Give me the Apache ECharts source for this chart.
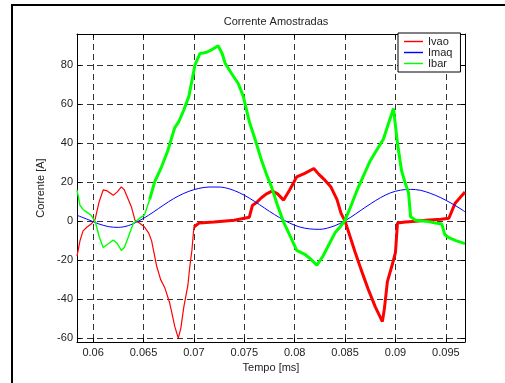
<!DOCTYPE html>
<html>
<head>
<meta charset="utf-8">
<script src="https://cdn.jsdelivr.net/npm/echarts@6/dist/echarts.min.js"></script>
<style>
html, body { margin: 0; padding: 0; background: #fff; }
#chart { width: 505px; height: 383px; }
</style>
</head>
<body>
<div id="chart"></div>
<script>
// pontos: [tempo, corrente]
const ivao = [[0.0584,-18],[0.0587,-10],[0.0590,-5],[0.0594,-3],[0.0598,-1.5],[0.0602,1],[0.0606,10],[0.0610,16],
  [0.0614,15.5],[0.0620,13.3],[0.0624,15],[0.0628,17.6],[0.0631,16],[0.0635,11],[0.0638,7.3],[0.06415,0.5],[0.0646,-1],
  [0.0651,-3],[0.0655,-6],[0.0658,-10],[0.0663,-23],[0.0667,-30],[0.0671,-34],[0.0676,-42],[0.0681,-54],[0.06845,-60],
  [0.0687,-55],[0.0690,-44],[0.0694,-33],[0.0696,-23],[0.0698,-15],[0.0700,-3],[0.0705,-1],[0.0720,-0.5],[0.0740,0.5],
  [0.0755,2],[0.0758,8],[0.0762,9.5],[0.0767,12],[0.0772,14],[0.0778,15.5],[0.0783,14],[0.0789,10.8],[0.0795,16],
  [0.0802,22.7],[0.0810,24.5],[0.0819,27],[0.0824,24],[0.0830,21],[0.0836,17.5],[0.0842,11],[0.0846,4],[0.0850,0],
  [0.0855,-8],[0.0860,-16],[0.0866,-25],[0.0873,-35],[0.0880,-44],[0.0887,-51.5],[0.0889,-45],[0.0892,-31],[0.0897,-22],
  [0.0900,-16],[0.0902,-1],[0.0910,-0.5],[0.0920,0],[0.0930,0.5],[0.0945,1],[0.0953,1.5],[0.0959,9],[0.0964,12],[0.0969,15]];

const imaq = [[0.0584,3],[0.0595,0.8],[0.0605,-1.3],[0.0615,-2.8],[0.0625,-3.2],[0.0635,-2.3],[0.0645,0],[0.0655,3],
  [0.0665,6.5],[0.0675,10],[0.0685,13],[0.0695,15.3],[0.0705,16.8],[0.0715,17.5],[0.0725,17.5],[0.0735,16.6],[0.0745,14.6],
  [0.0755,11.8],[0.0765,8.5],[0.0775,5],[0.0785,1.8],[0.0795,-1],[0.0805,-3],[0.0815,-4],[0.0825,-4.2],[0.0835,-3.2],
  [0.0845,-1.2],[0.0855,1.8],[0.0865,5.3],[0.0875,8.8],[0.0885,12],[0.0895,14.5],[0.0905,15.9],[0.0915,16.3],[0.0925,15.8],
  [0.0935,14.2],[0.0945,12],[0.0955,9.3],[0.0965,6.2],[0.0969,4.8]];

const ibar = [[0.0584,16],[0.0587,8],[0.0590,6],[0.0594,4.5],[0.0598,3],[0.0602,0],[0.0606,-8],[0.0610,-13.5],
  [0.0614,-12],[0.0620,-9.7],[0.0624,-11.5],[0.0628,-15],[0.0631,-13.5],[0.0635,-8],[0.0640,-1],[0.0645,1],[0.0651,3.2],
  [0.0656,11],[0.0661,20],[0.0668,28],[0.0674,36],[0.0681,48],[0.0685,51],[0.0690,57],[0.0695,64],[0.0701,80],[0.0706,86],
  [0.0712,86.5],[0.0718,88],[0.0724,90],[0.0728,86],[0.0731,81],[0.0737,76],[0.0744,70.6],[0.0749,64],[0.0755,51],
  [0.0761,41.5],[0.0767,31.3],[0.0772,24],[0.0777,17.6],[0.0783,8],[0.0789,-0.5],[0.0795,-7],[0.0802,-15],[0.0810,-17],
  [0.0816,-19.5],[0.0822,-22.6],[0.0828,-18],[0.0834,-12],[0.0840,-6],[0.0845,-3],[0.0850,0.5],[0.0856,8],[0.0862,16],
  [0.0868,23],[0.0875,31],[0.0882,37],[0.0888,42],[0.0893,50],[0.0898,57.8],[0.0902,40],[0.0906,26],[0.0910,19],
  [0.0913,14.5],[0.0915,2.2],[0.0920,0.5],[0.0930,0],[0.0940,-1],[0.0946,-1.5],[0.0949,-7],[0.0953,-8.5],[0.0960,-10],
  [0.0969,-11.5]];

const xTicks = [0.06, 0.065, 0.07, 0.075, 0.08, 0.085, 0.09, 0.095];
const yTicks = [-60, -40, -20, 0, 20, 40, 60, 80];

const font = 'Liberation Sans, Arial, Helvetica, sans-serif';
const xMin = 0.0584, xMax = 0.0969, yMin = -62, yMax = 96;

// trechos com ruido ficam mais grossos
const ivaoNoisyFrom = 0.0700;
const ibarNoisyFrom = 0.0656;

function line(name, data, color, width, smooth) {
  return {
    name: name, type: 'line', data: data, symbol: 'none', showSymbol: false, smooth: smooth || false,
    lineStyle: { color: color, width: width }, itemStyle: { color: color }
  };
}

function xAxis(pos, main) {
  return {
    type: 'value', position: pos, min: xMin, max: xMax,
    axisLine: { show: true, onZero: false, lineStyle: { color: '#000', width: 1 } },
    axisTick: { show: true, inside: true, length: 4, customValues: xTicks, lineStyle: { color: '#000' } },
    axisLabel: { show: main, customValues: xTicks, color: '#222', fontSize: 11, fontFamily: font, margin: 5,
      formatter: v => String(v) },
    splitLine: { show: main, lineStyle: { color: '#333', type: [6, 4], width: 1 } },
    name: main ? 'Tempo [ms]' : '', nameLocation: 'middle', nameGap: 19,
    nameTextStyle: { color: '#222', fontSize: 11, fontFamily: font }
  };
}

function yAxis(pos, main) {
  return {
    type: 'value', position: pos, min: yMin, max: yMax,
    axisLine: { show: true, onZero: false, lineStyle: { color: '#000', width: 1 } },
    axisTick: { show: true, inside: true, length: 4, customValues: yTicks, lineStyle: { color: '#000' } },
    axisLabel: { show: main, customValues: yTicks, color: '#222', fontSize: 11, fontFamily: font, margin: 4 },
    splitLine: { show: main, lineStyle: { color: '#333', type: [6, 4], width: 1 } },
    name: main ? 'Corrente [A]' : '', nameLocation: 'middle', nameGap: 27,
    nameTextStyle: { color: '#222', fontSize: 11, fontFamily: font }
  };
}

const legendIcon = 'path://M0,0H20V1.5H0Z';

function legendItem(name, color) {
  return { name: name, icon: legendIcon, itemStyle: { color: color, borderWidth: 0, opacity: 1 } };
}

const chart = echarts.init(document.getElementById('chart'));
chart.setOption({
  animation: false,
  backgroundColor: '#fff',
  title: {
    text: 'Corrente Amostradas', left: 271, top: 11, textAlign: 'center',
    textStyle: { color: '#222', fontSize: 11, fontWeight: 'normal', fontFamily: font }
  },
  grid: { left: 77, right: 40, top: 34, bottom: 41, containLabel: false },
  legend: {
    data: [legendItem('Ivao', '#ff0000'), legendItem('Imaq', '#0000ff'), legendItem('Ibar', '#00ff00')],
    orient: 'vertical', left: 398, top: 33, z: 10, symbolKeepAspect: true,
    itemWidth: 19, itemHeight: 14, itemGap: 0, itemTextGap: 9,
    padding: [3, 8, 3, 6], borderColor: '#000', borderWidth: 1, backgroundColor: '#fff',
    textStyle: { color: '#222', fontSize: 11, fontFamily: font }
  },
  xAxis: [xAxis('bottom', true), xAxis('top', false)],
  yAxis: [yAxis('left', true), yAxis('right', false)],
  graphic: [{
    type: 'rect', silent: true, z: 100,
    shape: { x: 12, y: 5, width: 700, height: 700 },
    style: { fill: null, stroke: '#000', lineWidth: 2 }
  }],
  series: [
    line('Ivao', ivao.filter(p => p[0] <= ivaoNoisyFrom), '#ff0000', 1.2),
    line('Ivao', ivao.filter(p => p[0] >= ivaoNoisyFrom), '#ff0000', 3),
    line('Imaq', imaq, '#0000ff', 1, 0.3),
    line('Ibar', ibar.filter(p => p[0] <= ibarNoisyFrom), '#00ff00', 1.4),
    line('Ibar', ibar.filter(p => p[0] >= ibarNoisyFrom), '#00ff00', 3)
  ]
});
</script>
</body>
</html>
